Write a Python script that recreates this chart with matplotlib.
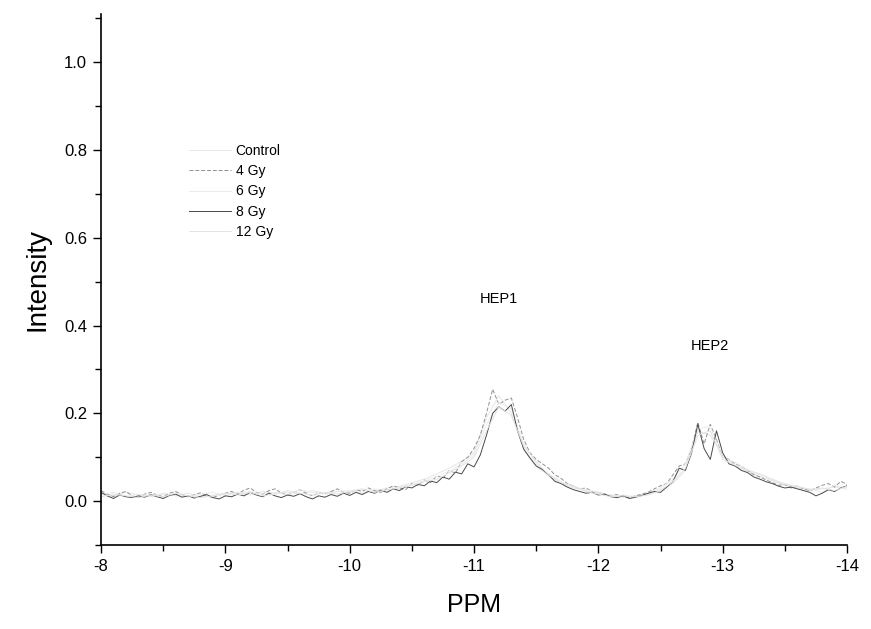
import numpy as np
import matplotlib
matplotlib.use('Agg')
import matplotlib.pyplot as plt
from matplotlib.ticker import MultipleLocator

plt.rcParams['font.family'] = ['Liberation Sans', 'DejaVu Sans']

# chemical shift grids (ppm)
ppm_fine = np.round(np.arange(-8.0, -14.001, -0.05), 2)
ppm_coarse = np.round(np.arange(-8.0, -14.001, -0.1), 2)

# spectra
control = [0.018, 0.012, 0.020, 0.014, 0.010, 0.016, 0.012, 0.018, 0.010, 0.014,
           0.016, 0.020, 0.014, 0.022, 0.018, 0.020, 0.016, 0.024, 0.018, 0.022,
           0.020, 0.026, 0.022, 0.030, 0.034, 0.042, 0.050, 0.062, 0.075, 0.090,
           0.110, 0.190, 0.240, 0.200, 0.120, 0.080, 0.058, 0.040, 0.030, 0.024,
           0.018, 0.014, 0.010, 0.012, 0.016, 0.026, 0.040, 0.070, 0.160, 0.150,
           0.105, 0.080, 0.068, 0.056, 0.046, 0.036, 0.030, 0.024, 0.028, 0.032,
           0.030]

gy4 = [0.024, 0.016, 0.010, 0.018, 0.022, 0.012, 0.008, 0.016, 0.020, 0.014,
       0.010, 0.018, 0.022, 0.015, 0.010, 0.014, 0.019, 0.012, 0.008, 0.014,
       0.018, 0.022, 0.016, 0.025, 0.030, 0.020, 0.016, 0.024, 0.028, 0.018,
       0.014, 0.020, 0.026, 0.018, 0.012, 0.019, 0.016, 0.022, 0.028, 0.020,
       0.018, 0.026, 0.022, 0.030, 0.024, 0.020, 0.028, 0.035, 0.030, 0.026,
       0.040, 0.036, 0.048, 0.042, 0.058, 0.052, 0.070, 0.064, 0.090, 0.100,
       0.120, 0.150, 0.200, 0.255, 0.220, 0.230, 0.235, 0.190, 0.140, 0.110,
       0.095, 0.085, 0.075, 0.060, 0.052, 0.040, 0.034, 0.028, 0.030, 0.022,
       0.020, 0.016, 0.012, 0.015, 0.010, 0.008, 0.012, 0.016, 0.020, 0.028,
       0.035, 0.040, 0.060, 0.080, 0.085, 0.120, 0.180, 0.130, 0.175, 0.140,
       0.100, 0.095, 0.085, 0.080, 0.070, 0.060, 0.055, 0.048, 0.042, 0.036,
       0.038, 0.030, 0.034, 0.028, 0.024, 0.030, 0.036, 0.040, 0.032, 0.045,
       0.038]

gy6 = [0.014, 0.020, 0.010, 0.016, 0.012, 0.018, 0.014, 0.010, 0.016, 0.020,
       0.012, 0.018, 0.022, 0.016, 0.020, 0.014, 0.026, 0.020, 0.016, 0.022,
       0.024, 0.018, 0.028, 0.024, 0.032, 0.038, 0.046, 0.056, 0.068, 0.085,
       0.105, 0.175, 0.225, 0.210, 0.130, 0.085, 0.062, 0.045, 0.032, 0.026,
       0.020, 0.012, 0.014, 0.008, 0.018, 0.030, 0.050, 0.085, 0.165, 0.170,
       0.100, 0.088, 0.072, 0.060, 0.048, 0.040, 0.032, 0.028, 0.020, 0.036,
       0.026]

gy8 = [0.020, 0.012, 0.006, 0.014, 0.010, 0.008, 0.012, 0.009, 0.015, 0.010,
       0.006, 0.013, 0.016, 0.009, 0.012, 0.007, 0.011, 0.015, 0.008, 0.005,
       0.012, 0.010, 0.016, 0.012, 0.020, 0.014, 0.010, 0.018, 0.012, 0.008,
       0.014, 0.011, 0.017, 0.010, 0.005, 0.012, 0.009, 0.015, 0.011, 0.018,
       0.013, 0.020, 0.015, 0.022, 0.018, 0.025, 0.020, 0.028, 0.024, 0.033,
       0.030, 0.038, 0.035, 0.046, 0.042, 0.055, 0.050, 0.066, 0.062, 0.085,
       0.078, 0.105, 0.150, 0.200, 0.215, 0.205, 0.220, 0.160, 0.118, 0.098,
       0.080, 0.072, 0.060, 0.045, 0.040, 0.032, 0.026, 0.022, 0.018, 0.020,
       0.014, 0.016, 0.010, 0.008, 0.012, 0.006, 0.009, 0.013, 0.018, 0.022,
       0.020, 0.032, 0.045, 0.075, 0.070, 0.110, 0.175, 0.120, 0.095, 0.160,
       0.110, 0.085, 0.080, 0.070, 0.065, 0.055, 0.050, 0.044, 0.040, 0.034,
       0.030, 0.032, 0.028, 0.024, 0.020, 0.012, 0.018, 0.026, 0.022, 0.030,
       0.035]

gy12 = [0.010, 0.016, 0.012, 0.008, 0.014, 0.010, 0.018, 0.012, 0.008, 0.012,
        0.018, 0.014, 0.020, 0.012, 0.016, 0.024, 0.018, 0.014, 0.020, 0.016,
        0.022, 0.028, 0.020, 0.026, 0.030, 0.036, 0.044, 0.050, 0.064, 0.080,
        0.100, 0.160, 0.215, 0.195, 0.125, 0.090, 0.060, 0.042, 0.034, 0.022,
        0.016, 0.010, 0.012, 0.010, 0.014, 0.024, 0.045, 0.075, 0.150, 0.160,
        0.095, 0.082, 0.070, 0.062, 0.050, 0.038, 0.034, 0.026, 0.030, 0.024,
        0.034]

fig = plt.figure(figsize=(8.71, 6.29), dpi=100)
ax = fig.add_axes([0.116, 0.1335, 0.8565, 0.8445])

ax.plot(ppm_coarse, control, color='#e6e6e6', lw=0.7, label='Control')
ax.plot(ppm_fine, gy4, color='#909090', lw=0.7, ls=(0, (4, 2)), label='4 Gy')
ax.plot(ppm_coarse, gy6, color='#ebebeb', lw=0.7, label='6 Gy')
ax.plot(ppm_fine, gy8, color='#4a4a4a', lw=0.7, label='8 Gy')
ax.plot(ppm_coarse, gy12, color='#e3e3e3', lw=0.7, label='12 Gy')

ax.set_xlim(-8, -14)
ax.set_ylim(-0.1, 1.11)
ax.xaxis.set_major_locator(MultipleLocator(1))
ax.xaxis.set_minor_locator(MultipleLocator(0.5))
ax.yaxis.set_major_locator(MultipleLocator(0.2))
ax.yaxis.set_minor_locator(MultipleLocator(0.1))
ax.xaxis.set_major_formatter(plt.FuncFormatter(lambda v, p: '%d' % v))
ax.yaxis.set_major_formatter(plt.FuncFormatter(lambda v, p: '%.1f' % v))

for s in ['top', 'right']:
    ax.spines[s].set_visible(False)
for s in ['left', 'bottom']:
    ax.spines[s].set_linewidth(1.2)
ax.tick_params(which='major', direction='out', length=6, width=1, labelsize=12, pad=4)
ax.tick_params(which='minor', direction='out', length=4, width=1)

ax.set_xlabel('PPM', fontsize=18, labelpad=14)
ax.set_ylabel('Intensity', fontsize=20, labelpad=10)

ax.text(-11.2, 0.46, 'HEP1', fontsize=10.5, ha='center', va='center')
ax.text(-12.9, 0.353, 'HEP2', fontsize=10.5, ha='center', va='center')

ax.legend(loc='upper left', bbox_to_anchor=(0.118, 0.755), frameon=False,
          fontsize=10, handlelength=3.0, handletextpad=0.35, labelspacing=0.45,
          borderpad=0, borderaxespad=0)

fig.savefig('out.png', dpi=100)
